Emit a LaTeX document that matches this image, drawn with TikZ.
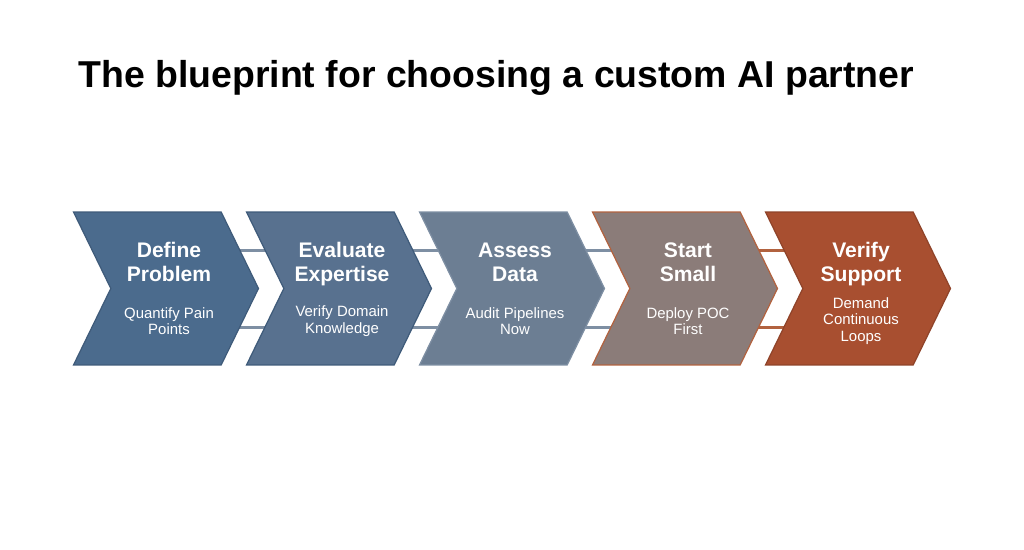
\documentclass[tikz,border=0pt]{standalone}
\usepackage{fontspec}
\setmainfont{Liberation Sans}
\usetikzlibrary{positioning, shapes.symbols, backgrounds}
\definecolor{stepone}{HTML}{4B6B8D}
\definecolor{steptwo}{HTML}{58718F}
\definecolor{stepthree}{HTML}{6C7E93}
\definecolor{stepfour}{HTML}{8B7C79}
\definecolor{stepfive}{HTML}{A84F30}
\definecolor{edgeblue}{HTML}{3F5B7A}
\definecolor{edgerust}{HTML}{B2623F}
\definecolor{linkgray}{HTML}{7E8FA3}
\tikzset{
chevron/.style={signal, signal from=west, signal to=east, signal pointer angle=128,
  minimum width=3.7cm, minimum height=3.06cm, inner sep=0pt, line width=0.7pt},
steptitle/.style={text=white, align=center, anchor=base, font=\bfseries\fontsize{12}{13.2}\selectfont},
stepnote/.style={text=white, align=center, font=\fontsize{8.5}{9.4}\selectfont},
link/.style={line width=1.5pt},
}

\begin{document}
\begin{tikzpicture}[x=0.02cm, y=-0.02cm]
            \useasboundingbox (0,0) rectangle (1024,550);
            \node[anchor=base west, inner sep=0pt, font=\bfseries\fontsize{21.3}{25}\selectfont] (head) at (78,88) {The blueprint for choosing a custom AI partner};
            % chevrons
            \node[chevron, fill=stepone, draw=edgeblue] (c1) at (166,288.5) {};
            \node[chevron, fill=steptwo, draw=edgeblue] (c2) at (339,288.5) {};
            \node[chevron, fill=stepthree, draw=linkgray] (c3) at (512,288.5) {};
            \node[chevron, fill=stepfour, draw=edgerust] (c4) at (685,288.5) {};
            \node[chevron, fill=stepfive, draw=stepfive!85!black] (c5) at (858,288.5) {};
            % links behind
            \begin{scope}[on background layer]
            \draw[link, linkgray] ([yshift=0.76cm]c1.center) -- ([yshift=0.76cm]c2.center);
            \draw[link, linkgray] ([yshift=-0.78cm]c1.center) -- ([yshift=-0.78cm]c2.center);
            \draw[link, linkgray] ([yshift=0.76cm]c2.center) -- ([yshift=0.76cm]c3.center);
            \draw[link, linkgray] ([yshift=-0.78cm]c2.center) -- ([yshift=-0.78cm]c3.center);
            \draw[link, linkgray] ([yshift=0.76cm]c3.center) -- ([yshift=0.76cm]c4.center);
            \draw[link, linkgray] ([yshift=-0.78cm]c3.center) -- ([yshift=-0.78cm]c4.center);
            \draw[link, edgerust] ([yshift=0.76cm]c4.center) -- ([yshift=0.76cm]c5.center);
            \draw[link, edgerust] ([yshift=-0.78cm]c4.center) -- ([yshift=-0.78cm]c5.center);
            \end{scope}
            % texts
            \node[steptitle] (t1) at ([xshift=0.06cm, yshift=0.15cm]c1.center) {Define\\Problem};
            \node[stepnote] (n1) at ([xshift=0.06cm, yshift=-0.65cm]c1.center) {Quantify Pain\\Points};
            \node[steptitle] (t2) at ([xshift=0.06cm, yshift=0.15cm]c2.center) {Evaluate\\Expertise};
            \node[stepnote] (n2) at ([xshift=0.06cm, yshift=-0.65cm]c2.center) {Verify Domain\\Knowledge};
            \node[steptitle] (t3) at ([xshift=0.06cm, yshift=0.15cm]c3.center) {Assess\\Data};
            \node[stepnote] (n3) at ([xshift=0.06cm, yshift=-0.65cm]c3.center) {Audit Pipelines\\Now};
            \node[steptitle] (t4) at ([xshift=0.06cm, yshift=0.15cm]c4.center) {Start\\Small};
            \node[stepnote] (n4) at ([xshift=0.06cm, yshift=-0.65cm]c4.center) {Deploy POC\\First};
            \node[steptitle] (t5) at ([xshift=0.06cm, yshift=0.15cm]c5.center) {Verify\\Support};
            \node[stepnote] (n5) at ([xshift=0.06cm, yshift=-0.65cm]c5.center) {Demand\\Continuous\\Loops};
        \end{tikzpicture}
\end{document}
